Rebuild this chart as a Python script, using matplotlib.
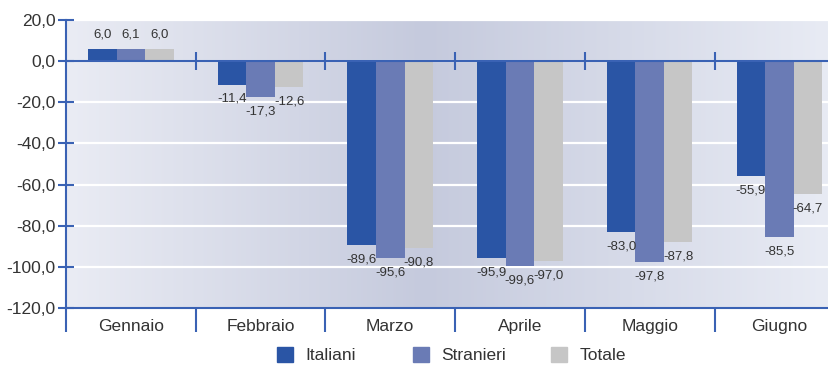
import numpy as np
import matplotlib.pyplot as plt
from matplotlib.colors import LinearSegmentedColormap
from matplotlib.patches import Patch

plt.rcParams['font.family'] = ['Liberation Sans', 'DejaVu Sans']

mesi = ['Gennaio', 'Febbraio', 'Marzo', 'Aprile', 'Maggio', 'Giugno']
serie = ['Italiani', 'Stranieri', 'Totale']
italiani = [6.0, -11.4, -89.6, -95.9, -83.0, -55.9]
stranieri = [6.1, -17.3, -95.6, -99.6, -97.8, -85.5]
totale = [6.0, -12.6, -90.8, -97.0, -87.8, -64.7]
colori = ['#2a55a5', '#6a7bb5', '#c6c6c6']
y_ticks = [20, 0, -20, -40, -60, -80, -100, -120]

asse = '#3a62b4'
testo = '#333333'

fig = plt.figure(figsize=(8.29, 3.65), dpi=100)
ax = fig.add_axes([66 / 829, 1 - 308 / 365, 1 - 66 / 829, 288 / 365])

# l'ultima categoria resta tagliata sul bordo destro
x_min, x_max = -0.5, -0.5 + 763 / 129.7
y_min, y_max = -120, 20

# sfondo sfumato orizzontale
cmap = LinearSegmentedColormap.from_list(
    'bg', [(0, '#eaecf4'), (0.47, '#c5cadd'), (1, '#e8ebf4')])
grad = np.linspace(0, 1, 256).reshape(1, -1)
ax.imshow(grad, cmap=cmap, aspect='auto', extent=[x_min, x_max, y_min, y_max],
          zorder=0)

for t in y_ticks[:-1]:
    ax.axhline(t, color='white', lw=1.6, zorder=1)

x = np.arange(len(mesi))
w = 0.22
for k, (vals, nome, col) in enumerate(zip([italiani, stranieri, totale], serie, colori)):
    pos = x + (k - 1) * w
    ax.bar(pos, vals, width=w, color=col, label=nome, zorder=2)
    for xi, v in zip(pos, vals):
        lab = f'{v:.1f}'.replace('.', ',')
        ax.annotate(lab, (xi, v), xytext=(0, 6 if v > 0 else -6),
                    textcoords='offset points', ha='center',
                    va='bottom' if v > 0 else 'top', fontsize=9.5, color=testo)

# linea dello zero con tacche sui confini delle categorie
ax.axhline(0, color=asse, lw=1.5, zorder=3)
bordi = np.arange(len(mesi)) + 0.5
ax.vlines(bordi, -4.4, 4.4, color=asse, lw=1.5, zorder=3)

for s in ['top', 'right']:
    ax.spines[s].set_visible(False)
for s in ['left', 'bottom']:
    ax.spines[s].set_color(asse)
    ax.spines[s].set_linewidth(1.5)
    ax.spines[s].set_zorder(4)

ax.set_yticks(y_ticks)
ax.set_yticklabels([f'{t:.1f}'.replace('.', ',') for t in y_ticks])
ax.tick_params(axis='y', direction='inout', length=11, width=1.5, color=asse,
               labelsize=12.5, labelcolor=testo, pad=2)

ax.set_xticks(x)
ax.set_xticklabels(mesi)
ax.set_xticks(np.arange(len(mesi) + 1) - 0.5, minor=True)
ax.tick_params(axis='x', which='major', length=0, labelsize=12.5,
               labelcolor=testo, pad=8)
ax.tick_params(axis='x', which='minor', direction='out', length=17, width=1.5,
               color=asse)

# i limiti vanno fissati dopo le tacche, che altrimenti li allargano
ax.set_xlim(x_min, x_max)
ax.set_ylim(y_min, y_max)

# legenda: una voce per colonna, a passo fisso
for xl, c, n in zip([277, 413, 551], colori, serie):
    fig.legend(handles=[Patch(color=c, label=n)], loc='center left',
               bbox_to_anchor=(xl / 829, 1 - 355 / 365),
               frameon=False, fontsize=12.5, handlelength=0.95,
               handleheight=0.95, handletextpad=0.7,
               borderpad=0, borderaxespad=0, labelcolor=testo)

fig.savefig('out.png', dpi=100, facecolor='white')
